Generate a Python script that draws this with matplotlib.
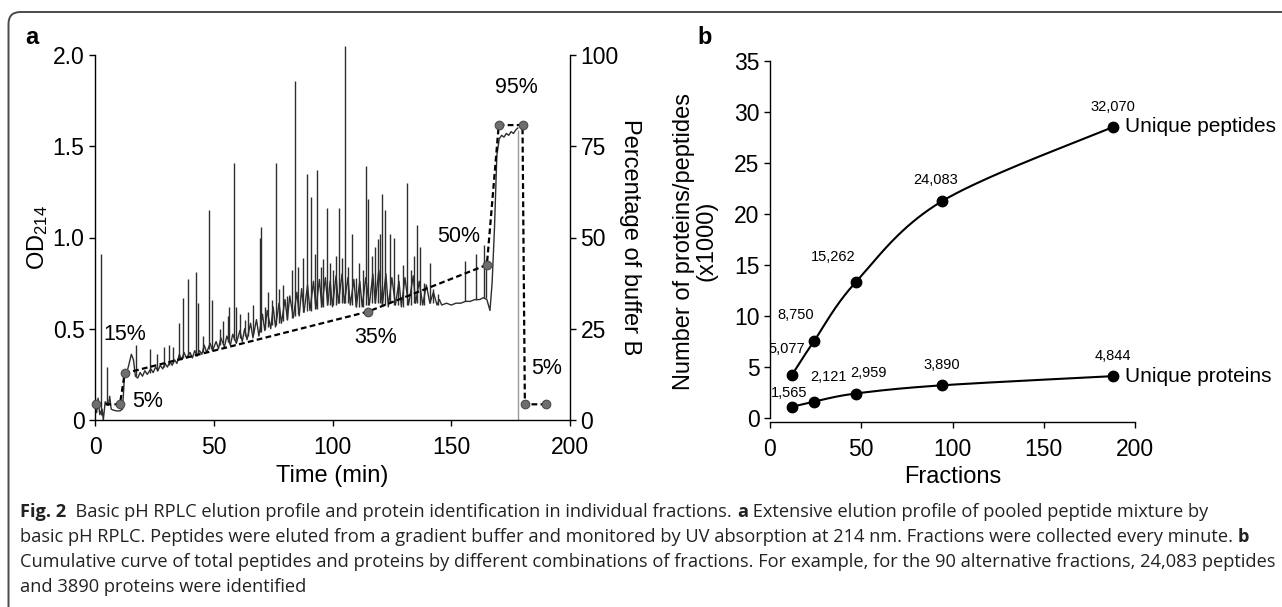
import numpy as np
import matplotlib
matplotlib.use('Agg')
import matplotlib.pyplot as plt
from matplotlib import font_manager
from matplotlib.patches import FancyBboxPatch
from matplotlib.transforms import IdentityTransform

plt.rcParams['font.family'] = ['Liberation Sans', 'DejaVu Sans']
plt.rcParams['mathtext.default'] = 'regular'

W, H = 1282, 607

# ---------------- panel a: UV trace (time in min, OD214)
uv_trace = np.array([
    (0.0, 0.08), (0.7, 0.04), (1.3, 0.12), (2.0, 0.03), (3.0, 0.06), (3.5, 0.00), (4.3, 0.10),
    (5.6, 0.08), (6.2, 0.13), (6.8, 0.06), (7.5, 0.055), (9.0, 0.05), (10.5, 0.05), (11.6, 0.06),
    (12.4, 0.24), (13.2, 0.25), (14.2, 0.30), (15.3, 0.36), (16.2, 0.33), (17.0, 0.24), (18.0, 0.23),
    (19.0, 0.26), (20.0, 0.24), (21.0, 0.27), (22.0, 0.25), (23.5, 0.28), (24.5, 0.26), (25.5, 0.29),
    (26.5, 0.27), (27.5, 0.30), (28.5, 0.28), (29.5, 0.31), (30.5, 0.29), (31.5, 0.32), (32.5, 0.30),
    (33.5, 0.33), (34.5, 0.31), (35.5, 0.36), (36.5, 0.33), (37.5, 0.37), (38.5, 0.34), (40.0, 0.37),
    (41.0, 0.34), (42.0, 0.38), (43.0, 0.35), (44.0, 0.38), (45.0, 0.36), (46.0, 0.41), (47.0, 0.37),
    (48.5, 0.42), (49.5, 0.38), (51.0, 0.43), (52.0, 0.39), (53.0, 0.45), (54.5, 0.40), (55.5, 0.46),
    (57.0, 0.41), (58.0, 0.47), (59.5, 0.42), (61.0, 0.49), (62.0, 0.43), (63.0, 0.50), (64.0, 0.44),
    (65.5, 0.53), (66.5, 0.45), (68.0, 0.55), (69.0, 0.46), (70.5, 0.58), (71.5, 0.49), (72.5, 0.60),
    (74.0, 0.50), (75.0, 0.62), (76.0, 0.51), (77.5, 0.64), (78.5, 0.53), (80.0, 0.66), (81.0, 0.55),
    (82.0, 0.68), (83.5, 0.56), (85.0, 0.70), (86.0, 0.57), (87.0, 0.72), (88.0, 0.59), (89.5, 0.74),
    (90.5, 0.60), (92.0, 0.76), (93.0, 0.61), (94.5, 0.77), (95.5, 0.62), (97.0, 0.78), (98.0, 0.63),
    (99.0, 0.76), (100.0, 0.62), (101.5, 0.79), (102.5, 0.64), (104.0, 0.80), (105.0, 0.64),
    (106.5, 0.78), (107.5, 0.63), (109.0, 0.77), (110.0, 0.62), (111.5, 0.76), (112.5, 0.62),
    (114.0, 0.78), (115.5, 0.63), (117.0, 0.80), (118.0, 0.64), (119.5, 0.82), (121.0, 0.63),
    (122.5, 0.80), (123.5, 0.62), (125.0, 0.78), (126.5, 0.63), (128.0, 0.76), (129.0, 0.62),
    (130.5, 0.78), (132.0, 0.63), (134.0, 0.79), (135.0, 0.64), (136.5, 0.76), (138.0, 0.63),
    (139.5, 0.74), (141.0, 0.64), (142.5, 0.70), (144.0, 0.63), (145.0, 0.66), (146.0, 0.63),
    (148.0, 0.64), (150.0, 0.63), (152.0, 0.64), (154.0, 0.64), (156.0, 0.65), (158.0, 0.65),
    (160.0, 0.66), (162.0, 0.66), (163.5, 0.67), (165.0, 0.66), (166.3, 0.60), (167.2, 0.75),
    (168.2, 1.05), (169.2, 1.45), (170.2, 1.54), (171.2, 1.56), (172.2, 1.55), (173.2, 1.57),
    (174.2, 1.56), (175.2, 1.58), (176.2, 1.57), (177.2, 1.59), (178.0, 1.60)])

# sharp peaks: time, top, foot
uv_peaks = np.array([
    (2.6, 0.91, 0.03), (5.0, 0.29, 0.08), (17.4, 0.41, 0.24), (23.0, 0.39, 0.26), (26.0, 0.36, 0.27),
    (29.0, 0.40, 0.29), (31.0, 0.41, 0.30), (33.0, 0.40, 0.31), (35.3, 0.53, 0.33), (37.2, 0.67, 0.34),
    (39.3, 0.77, 0.35), (42.4, 0.81, 0.36), (43.5, 0.64, 0.36), (45.5, 0.46, 0.37), (48.1, 1.15, 0.39),
    (49.4, 0.66, 0.39), (52.5, 0.50, 0.41), (54.0, 0.54, 0.42), (55.8, 0.57, 0.43), (56.5, 0.62, 0.43),
    (58.4, 1.41, 0.44), (59.5, 0.62, 0.44), (61.0, 0.58, 0.45), (63.0, 0.55, 0.46), (64.6, 0.59, 0.46),
    (66.5, 0.63, 0.47), (69.3, 1.00, 0.48), (69.8, 1.06, 0.48), (71.4, 0.62, 0.50), (73.0, 0.70, 0.51),
    (74.5, 0.66, 0.52), (76.4, 1.41, 0.52), (77.5, 0.72, 0.53), (79.2, 0.74, 0.54), (80.7, 0.68, 0.55),
    (82.8, 0.82, 0.56), (84.2, 1.86, 0.57), (85.6, 0.84, 0.58), (87.5, 0.89, 0.59), (89.1, 1.35, 0.60),
    (91.0, 1.22, 0.60), (92.7, 0.91, 0.61), (93.6, 1.37, 0.61), (95.0, 0.84, 0.62), (96.2, 0.88, 0.62),
    (97.6, 1.16, 0.63), (99.0, 0.86, 0.63), (100.4, 0.82, 0.63), (101.5, 0.90, 0.63), (102.9, 1.16, 0.64),
    (103.9, 0.89, 0.64), (105.4, 2.05, 0.64), (106.5, 0.84, 0.64), (108.3, 1.02, 0.63), (110.0, 0.78, 0.62),
    (111.2, 0.86, 0.62), (112.8, 0.82, 0.62), (114.3, 1.39, 0.63), (115.0, 1.21, 0.63), (116.5, 0.90, 0.64),
    (118.0, 0.95, 0.64), (119.2, 0.99, 0.64), (119.8, 1.02, 0.64), (120.8, 1.24, 0.63), (122.0, 1.15, 0.63),
    (124.2, 1.02, 0.64), (125.9, 1.00, 0.63), (127.5, 0.80, 0.63), (129.5, 0.85, 0.62), (131.2, 1.30, 0.63),
    (133.0, 0.82, 0.63), (134.5, 0.90, 0.64), (135.7, 1.07, 0.64), (137.0, 0.95, 0.63), (138.5, 0.75, 0.63),
    (140.9, 0.86, 0.64), (142.5, 0.72, 0.64), (144.3, 0.69, 0.63), (155.6, 0.87, 0.65), (160.3, 0.91, 0.66),
    (163.8, 0.96, 0.67), (164.5, 0.88, 0.67)])

drop_t = 178.3
drop_top = 1.59

# buffer B gradient (percentage axis)
grad_t = [0.5, 10.5, 12.5, 115.0, 165.0, 170.0, 180.0, 181.0, 190.0]
grad_pct = [4.3, 4.3, 12.8, 29.7, 42.5, 80.8, 80.8, 4.3, 4.3]
grad_text = ['15%', '5%', '35%', '50%', '95%', '5%']
grad_text_t = [12.6, 22.2, 118.3, 153.0, 177.3, 190.3]
grad_text_pct = [23.3, 5.2, 22.5, 50.2, 91.0, 14.2]

# ---------------- panel b
fractions = [12, 24, 47, 94, 188]
peptides = [4.2, 7.5, 13.3, 21.2, 28.5]
proteins = [1.1, 1.6, 2.4, 3.2, 4.1]
pep_text = ['5,077', '8,750', '15,262', '24,083', '32,070']
prot_text = ['1,565', '2,121', '2,959', '3,890', '4,844']

caption = [
    [('Fig. 2', True), ('  Basic pH RPLC elution profile and protein identification in individual fractions. ', False),
     ('a', True), (' Extensive elution profile of pooled peptide mixture by', False)],
    [('basic pH RPLC. Peptides were eluted from a gradient buffer and monitored by UV absorption at 214 nm. '
      'Fractions were collected every minute. ', False), ('b', True)],
    [('Cumulative curve of total peptides and proteins by different combinations of fractions. '
      'For example, for the 90 alternative fractions, 24,083 peptides', False)],
    [('and 3890 proteins were identified', False)],
]


def smooth(x, y, sx, sy, n=40):
    # Catmull-Rom through the points, computed in screen-like units
    p = np.column_stack([np.asarray(x, float) * sx, np.asarray(y, float) * sy])
    p = np.vstack([p[0], p, p[-1]])
    out = []
    for i in range(1, len(p) - 2):
        p0, p1, p2, p3 = p[i - 1], p[i], p[i + 1], p[i + 2]
        s = np.linspace(0, 1, n)[:, None]
        seg = 0.5 * (2 * p1 + (-p0 + p2) * s + (2 * p0 - 5 * p1 + 4 * p2 - p3) * s ** 2
                     + (-p0 + 3 * p1 - 3 * p2 + p3) * s ** 3)
        out.append(seg)
    out = np.vstack(out)
    return out[:, 0] / sx, out[:, 1] / sy


fig = plt.figure(figsize=(W / 100, H / 100), dpi=100)

# rounded frame around the figure (open at right/bottom edge)
frame = FancyBboxPatch((8.5, -60), 1400, H - 12 + 60, boxstyle='round,pad=0,rounding_size=12',
                       transform=IdentityTransform(), fill=False, ec='#4a4a4a', lw=1.4)
fig.patches.append(frame)

tick_kw = dict(direction='out', length=4.5, width=1.0, labelsize=16.5, color='black')
trace_col = '#2e2e2e'
lab_fs = 17

# ---- panel a
ax = fig.add_axes([95 / W, 1 - 420 / H, 475 / W, 365 / H])
ax.plot(uv_trace[:, 0], uv_trace[:, 1], color=trace_col, lw=1.0, clip_on=False, zorder=2)
ax.vlines(uv_peaks[:, 0], uv_peaks[:, 2], uv_peaks[:, 1], color=trace_col, lw=1.0, clip_on=False, zorder=2)
ax.vlines([drop_t], 0, drop_top, color='#9a9a9a', lw=1.0, zorder=2)
ax.set_xlim(0, 200)
ax.set_ylim(0, 2.0)
ax.set_xticks([0, 50, 100, 150, 200])
ax.set_yticks([0, 0.5, 1.0, 1.5, 2.0])
ax.set_yticklabels(['0', '0.5', '1.0', '1.5', '2.0'])
ax.tick_params(axis='y', pad=3, **tick_kw)
ax.tick_params(axis='x', pad=7, **tick_kw)
for s in ['top', 'right']:
    ax.spines[s].set_visible(False)
for s in ['left', 'bottom']:
    ax.spines[s].set_linewidth(1.0)
ax.set_xlabel('Time (min)', fontsize=lab_fs, labelpad=4)
ax.set_ylabel('OD$_{214}$', fontsize=lab_fs, labelpad=2)

ax2 = ax.twinx()
ax2.set_ylim(0, 100)
ax2.set_yticks([0, 25, 50, 75, 100])
ax2.tick_params(axis='y', pad=3, **tick_kw)
for s in ['top', 'left', 'bottom']:
    ax2.spines[s].set_visible(False)
ax2.spines['right'].set_linewidth(1.0)
ax2.plot(grad_t, grad_pct, color='black', lw=1.6, ls=(0, (2.6, 1.5)), marker='o', ms=6.2,
         mfc='#6e6e6e', mec='#4a4a4a', mew=0.8, clip_on=False, zorder=3)
for txt, tx, ty in zip(grad_text, grad_text_t, grad_text_pct):
    ax2.text(tx, ty, txt, fontsize=15.5, ha='center', va='center')
ax2.set_ylabel('Percentage of buffer B', fontsize=lab_fs, rotation=270, va='bottom', labelpad=0)

# ---- panel b
bx = fig.add_axes([770 / W, 1 - 421.6 / H, 365 / W, 361.1 / H])
sx, sy = 365 / 200, 10.21
for vals in (peptides, proteins):
    cx, cy = smooth(fractions, vals, sx, sy)
    bx.plot(cx, cy, color='black', lw=1.5, zorder=2)
    bx.plot(fractions, vals, 'o', color='black', ms=7.5, zorder=3)
pep_off = [(-5, 26), (-18, 26), (-23, 25), (-6, 21), (0, 20)]
prot_off = [(-3, 14), (15, 25), (13, 21), (0, 20), (0, 20)]
for xs, ys, labs, offs in ((fractions, peptides, pep_text, pep_off), (fractions, proteins, prot_text, prot_off)):
    for x, y, lab, off in zip(xs, ys, labs, offs):
        bx.annotate(lab, (x, y), xytext=off, textcoords='offset pixels', ha='center', va='center',
                    fontsize=10.5)
bx.annotate('Unique peptides', (fractions[-1], peptides[-1]), xytext=(12, 0), textcoords='offset pixels',
            ha='left', va='center', fontsize=15, annotation_clip=False)
bx.annotate('Unique proteins', (fractions[-1], proteins[-1]), xytext=(12, 0), textcoords='offset pixels',
            ha='left', va='center', fontsize=15, annotation_clip=False)
bx.set_xlim(0, 200)
bx.set_ylim(-0.35, 35)
bx.set_xticks([0, 50, 100, 150, 200])
bx.set_yticks(range(0, 36, 5))
bx.spines['left'].set_bounds(0, 35)
bx.tick_params(axis='y', pad=3, **tick_kw)
bx.tick_params(axis='x', pad=7, **tick_kw)
for s in ['top', 'right']:
    bx.spines[s].set_visible(False)
for s in ['left', 'bottom']:
    bx.spines[s].set_linewidth(1.0)
bx.set_xlabel('Fractions', fontsize=lab_fs, labelpad=4)
bx.set_ylabel('Number of proteins/peptides\n(x1000)', fontsize=lab_fs, labelpad=12, linespacing=1.0)

# panel letters
fig.text(25 / W, 1 - 38 / H, 'a', fontsize=17, fontweight='bold', ha='left', va='center')
fig.text(697 / W, 1 - 38 / H, 'b', fontsize=17, fontweight='bold', ha='left', va='center')


# ---- caption
def font_ok(name):
    try:
        font_manager.findfont(font_manager.FontProperties(family=name), fallback_to_default=False)
        return True
    except ValueError:
        return False


cap_family = 'Liberation Sans Narrow' if font_ok('Liberation Sans Narrow') else 'Open Sans'
renderer = fig.canvas.get_renderer()
probe = fig.text(0, 0, caption[2][0][0], fontsize=10, family=cap_family)
pw = probe.get_window_extent(renderer).width
probe.remove()
cap_size = 10 * (1256 / pw)

cap_y = [512, 537, 562, 587]
for yline, parts in zip(cap_y, caption):
    x = 20
    for txt, bold in parts:
        t = fig.text(x / W, 1 - yline / H, txt, fontsize=cap_size, family=cap_family,
                     fontweight='bold' if bold else 'normal', ha='left', va='center', color='#222222')
        x = t.get_window_extent(renderer).x1

fig.savefig('out.png', dpi=100)
